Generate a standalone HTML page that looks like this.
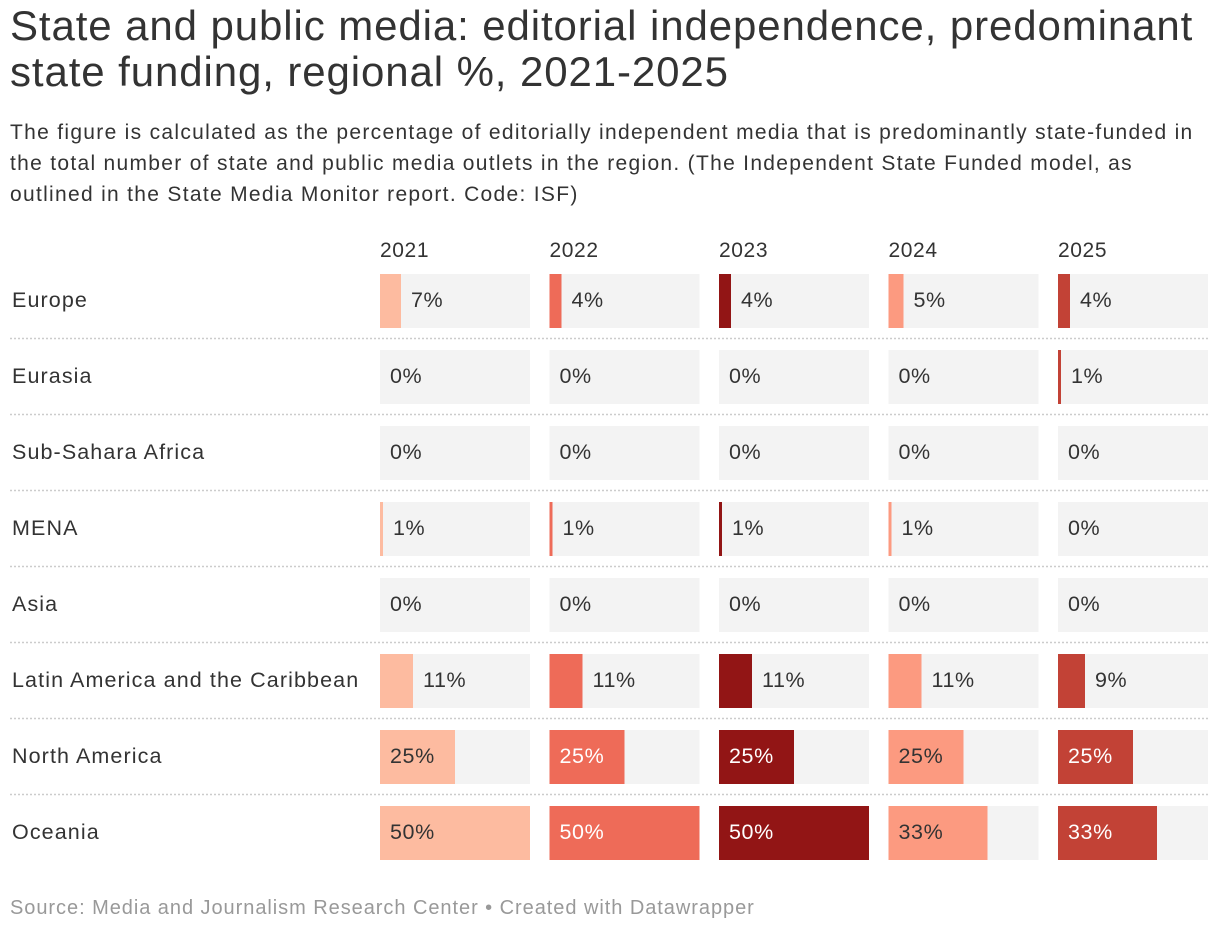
<!DOCTYPE html>
<html><head><meta charset="utf-8"><style>
body{margin:0;background:#fff;font-family:"Liberation Sans",sans-serif;color:#333;width:1220px;height:934px;overflow:hidden;position:relative}
h1{position:absolute;left:10px;top:3px;margin:0;font-size:42px;font-weight:400;line-height:46px;color:#333;width:1215px;letter-spacing:0.9px;white-space:nowrap}
.desc{position:absolute;left:10px;top:117px;font-size:21px;line-height:31px;color:#333;width:1215px;letter-spacing:1.3px;white-space:nowrap}
.src{position:absolute;left:10px;top:897px;font-size:20px;color:#999;letter-spacing:0.95px}
</style></head><body>
<h1>State and public media: editorial independence, predominant<br>state funding, regional %, 2021-2025</h1>
<div class="desc">The figure is calculated as the percentage of editorially independent media that is predominantly state-funded in<br>the total number of state and public media outlets in the region. (The Independent State Funded model, as<br>outlined in the State Media Monitor report. Code: ISF)</div>
<svg id="chart" width="1220" height="934" style="position:absolute;left:0;top:0"></svg>
<div class="src">Source: Media and Journalism Research Center • Created with Datawrapper</div>
<script>
const years=["2021","2022","2023","2024","2025"];
const regions=["Europe","Eurasia","Sub-Sahara Africa","MENA","Asia","Latin America and the Caribbean","North America","Oceania"];
const v2021=[7,0,0,1,0,11,25,50];
const v2022=[4,0,0,1,0,11,25,50];
const v2023=[4,0,0,1,0,11,25,50];
const v2024=[5,0,0,1,0,11,25,33];
const v2025=[4,1,0,0,0,9,25,33];
const series=[v2021,v2022,v2023,v2024,v2025];
const colors=["#fdbba0","#ee6b58","#921515","#fc9a80","#c24236"];
const lightText=[false,true,true,false,true];
const maxV=50;
const svg=document.getElementById('chart');
const NS="http://www.w3.org/2000/svg";
const colX=i=>380+i*169.5, colW=150, rowY=j=>274+j*76, rowH=54;
const xs=v=>v/maxV*colW;
function mk(t,a){const e=document.createElementNS(NS,t);for(const k in a)e.setAttribute(k,a[k]);svg.appendChild(e);return e;}
years.forEach((y,i)=>{const t=mk('text',{x:colX(i),y:257,'font-size':21,fill:'#333','letter-spacing':0.6});t.textContent=y;

});
regions.forEach((r,j)=>{
const t=mk('text',{x:12,y:rowY(j)+rowH/2+6,'font-size':21.5,fill:'#333','letter-spacing':1.1});t.textContent=r;


if(j<regions.length-1){const l=mk('line',{x1:10,x2:1208,y1:rowY(j)+rowH+10.5,y2:rowY(j)+rowH+10.5,stroke:'#ccc','stroke-width':1.5,'stroke-dasharray':'2,2'});

}
series.forEach((s,i)=>{
const bg=mk('rect',{x:colX(i),y:rowY(j),width:colW,height:rowH,fill:'#f3f3f3'});


const w=xs(s[j]);
if(w>0){const b=mk('rect',{x:colX(i),y:rowY(j),width:Math.max(w,2),height:rowH,fill:colors[i]});

}
const inside=w>50;
const lx=inside?colX(i)+10:colX(i)+Math.max(w,0)+10;
const tx=mk('text',{x:lx,y:rowY(j)+rowH/2+6,'font-size':21.5,fill:inside&&lightText[i]?'#fff':'#333','letter-spacing':0.6});
tx.textContent=s[j]+'%';


});});
</script>
</body></html>
